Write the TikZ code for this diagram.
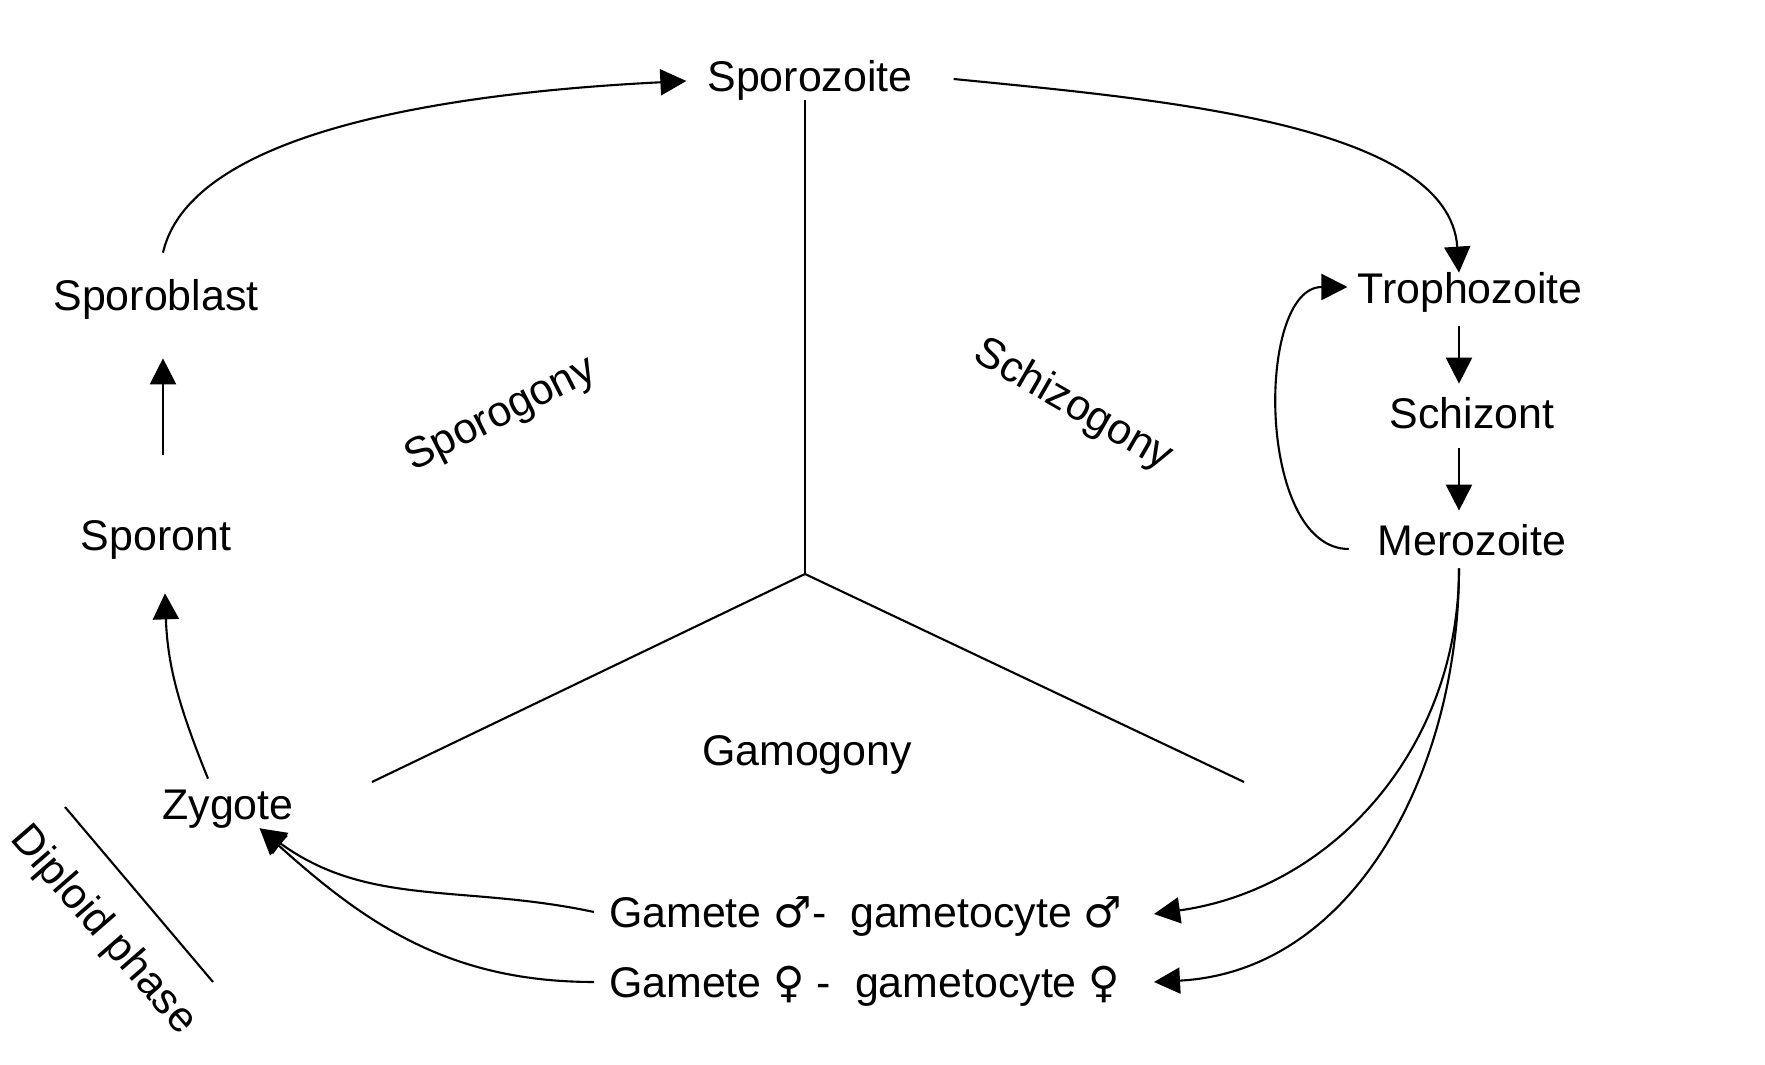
\documentclass[tikz,border=0pt]{standalone}
\usepackage{fontspec}
\setmainfont{Liberation Sans}
\newfontfamily\sexfont{DejaVu Sans}
\usetikzlibrary{calc, arrows.meta}

\tikzset{
  stage/.style={font=\fontsize{12.2}{14}\selectfont, inner sep=0pt, text height=8.7pt, text depth=0pt},
  cyc/.style={-{Triangle[length=2.6mm, width=2.6mm]}},
}

\begin{document}
\begin{tikzpicture}[x=0.01cm, y=0.01cm, line width=0.6pt]
\useasboundingbox (0,0) rectangle (1765,-1065);

\node[stage] (sporozoite) at (810,-76) {Sporozoite};
\node[stage] (trophozoite) at (1470,-288) {Trophozoite};
\node[stage] (schizont) at (1472,-413) {Schizont};
\node[stage] (merozoite) at (1472,-540) {Merozoite};
\node[stage, anchor=west] (gmale) at (608,-912) {Gamete~{\sexfont ♂}-~~gametocyte~{\sexfont ♂}};
\node[stage, anchor=west] (gfemale) at (608,-982) {Gamete~{\sexfont ♀}~-~~gametocyte~{\sexfont ♀}};
\node[stage] (zygote) at (228,-804) {Zygote};
\node[stage] (sporont) at (156,-535) {Sporont};
\node[stage] (sporoblast) at (156,-295) {Sporoblast};

\node[stage, rotate=27] (sporogony) at (499,-411) {Sporogony};
\node[stage, rotate=-30] (schizogony) at (1075,-402) {Schizogony};
\node[stage] (gamogony) at (807,-750) {Gamogony};
\node[stage, rotate=-49] (diploid) at (106,-928) {Diploid phase};

% the three phases
\coordinate (hub) at (805,-574);
\coordinate (hubL) at (372,-782);
\coordinate (hubR) at (1244,-782);
\draw ($(sporozoite.south)+(-5,-8)$) -- (hub);
\draw (hub) -- (hubL);
\draw (hub) -- (hubR);

\coordinate (dipA) at (65,-807);
\coordinate (dipB) at (213,-982);
\draw (dipA) -- (dipB);

% asexual cycle
\draw[cyc] ($(sporozoite.east)+(40,-3)$) .. controls +(200,-20) and +(-10,150) ..
    ($(trophozoite.north)+(-11,-1)$);
\draw[cyc] ($(trophozoite.south)+(-11,-22)$) -- ($(schizont.north)+(-13,13)$);
\draw[cyc] ($(schizont.south)+(-13,-19)$) -- ($(merozoite.north)+(-13,13)$);
\draw[cyc] ($(merozoite.west)+(-28,-9)$) to[out=180, in=180, looseness=0.9]
    ($(trophozoite.west)+(-9,1)$);

% gametes
\coordinate (meroDown) at ($(merozoite.south)+(-13,-12)$);
\draw[cyc] (meroDown) to[out=-90, in=8] ($(gmale.west)+(546,-2)$);
\draw[cyc] (meroDown) to[out=-90, in=3] ($(gfemale.west)+(546,0)$);
\draw[cyc] ($(gmale.west)+(-14,0)$) to[out=168, in=-36]
    ($(zygote.south east)+(-35,-8)$);
\draw[cyc] ($(gfemale.west)+(-14,0)$) to[out=180, in=-42]
    ($(zygote.south east)+(-35,-8)$);

% sporogony
\draw[cyc] ($(zygote.north)+(-20,9)$) to[out=112, in=-88]
    ($(sporont.south)+(9,-42)$);
\draw[cyc] ($(sporont.north)+(7,64)$) -- ($(sporoblast.south)+(7,-47)$);
\draw[cyc] ($(sporoblast.north)+(7,26)$) .. controls +(30,130) and +(-200,-10) ..
    ($(sporozoite.west)+(-20,-5)$);
\end{tikzpicture}
\end{document}
